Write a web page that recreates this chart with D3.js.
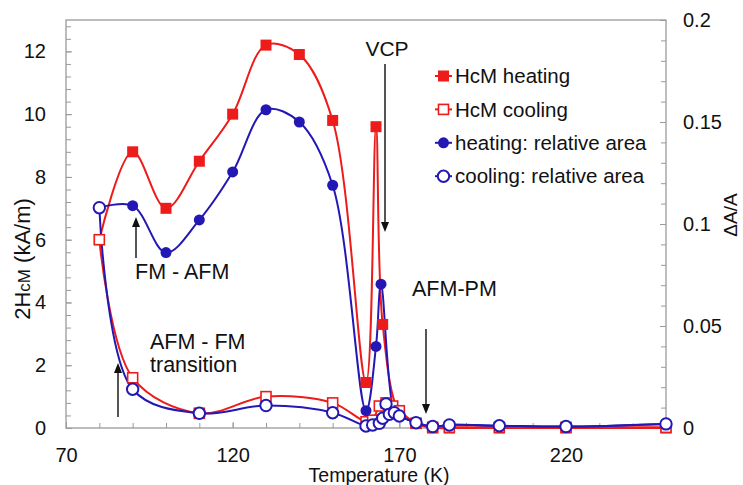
<!DOCTYPE html>
<html>
<head>
<meta charset="utf-8">
<script src="https://cdn.jsdelivr.net/npm/d3@7"></script>
<style>
body{margin:0;background:#fff;}
text{font-family:"Liberation Sans",Arial,sans-serif;fill:#111;}
</style>
</head>
<body>
<svg id="chart" width="743" height="485"></svg>
<script>
// data
const heatT    = [80, 90, 100, 110, 120, 130, 140, 150, 160, 163, 165, 170, 175, 180, 185, 200, 220, 250];
const heatHcM  = [6.0, 8.8, 7.0, 8.5, 10.0, 12.2, 11.9, 9.8, 1.45, 9.6, 3.3, 0.5, 0.15, 0, 0, 0, 0, 0];
const coolT    = [80, 90, 110, 130, 150, 160, 162, 164, 166, 168, 170, 175, 180, 185, 200, 220, 250];
const coolHcM  = [6.0, 1.6, 0.47, 1.0, 0.8, 0.2, 0.25, 0.7, 0.8, 0.7, 0.55, 0.15, 0.02, 0.02, 0.02, 0.02, 0.02];
const heatAT   = [80, 90, 100, 110, 120, 130, 140, 150, 160, 163, 164.5, 168.5, 170, 175, 180, 185, 200, 220, 250];
const heatArea = [0.108, 0.109, 0.086, 0.102, 0.1255, 0.156, 0.150, 0.119, 0.0085, 0.040, 0.0705, 0.0075, 0.0059, 0.0026, 0.0007, 0.0015, 0.0011, 0.0007, 0.002];
const coolAT   = [80, 90, 110, 130, 150, 160, 162, 164, 165, 166, 167, 168.5, 170, 175, 180, 185, 200, 220, 250];
const coolArea = [0.108, 0.019, 0.0072, 0.011, 0.0075, 0.001, 0.0015, 0.0023, 0.0048, 0.0118, 0.0067, 0.0075, 0.0059, 0.0026, 0.0007, 0.0015, 0.0011, 0.0007, 0.002];

const xTicks  = [70, 120, 170, 220];
const yLTicks = [0, 2, 4, 6, 8, 10, 12];
const yRTicks = [0, 0.05, 0.1, 0.15, 0.2];
const legendNames = ['HcM heating', 'HcM cooling', 'heating: relative area', 'cooling: relative area'];

const RED = '#ee1b1b', BLUE = '#2418b4', AX = '#9a9a9a';
const L = 66, R = 666, T = 20, B = 428;

let svg = d3.select('#chart');

let x  = d3.scaleLinear().domain([70, 250]).range([L, R]);
let yL = d3.scaleLinear().domain([0, 13]).range([B, T]);
let yR = d3.scaleLinear().domain([0, 0.2]).range([B, T]);

// frame
svg.append('rect')
    .attr('x', L).attr('y', T)
    .attr('width', R - L).attr('height', B - T)
    .attr('fill', 'none').attr('stroke', AX).attr('stroke-width', 1.3);

function styleAxis(g){
    g.select('.domain').remove();
    g.selectAll('line').attr('stroke', AX);
    g.selectAll('text').attr('font-size', 20).attr('fill', '#111')
        .attr('font-family', '"Liberation Sans",Arial,sans-serif');
}

// minor ticks
svg.append('g').attr('transform', `translate(0,${B})`)
    .call(d3.axisBottom(x).tickValues(d3.range(80, 250, 10)).tickSize(-5).tickFormat(''))
    .call(styleAxis);
svg.append('g').attr('transform', `translate(${L},0)`)
    .call(d3.axisLeft(yL).tickValues(d3.range(0, 13, 0.4)).tickSize(-5).tickFormat(''))
    .call(styleAxis);
svg.append('g').attr('transform', `translate(${R},0)`)
    .call(d3.axisRight(yR).tickValues(d3.range(0, 0.2, 0.01)).tickSize(-5).tickFormat(''))
    .call(styleAxis);

// major ticks + labels
svg.append('g').attr('transform', `translate(0,${B})`)
    .call(d3.axisBottom(x).tickValues(xTicks).tickSize(-6).tickPadding(20))
    .call(styleAxis);
svg.append('g').attr('transform', `translate(${L},0)`)
    .call(d3.axisLeft(yL).tickValues(yLTicks).tickSize(-6).tickPadding(20))
    .call(styleAxis);
svg.append('g').attr('transform', `translate(${R},0)`)
    .call(d3.axisRight(yR).tickValues(yRTicks).tickSize(-6).tickPadding(17).tickFormat(d => d === 0 ? '0' : String(d)))
    .call(styleAxis);

// axis titles
svg.append('text')
    .attr('x', 379).attr('y', 482)
    .attr('text-anchor', 'middle').attr('font-size', 19.5)
    .text('Temperature (K)');

let yTitle = svg.append('text')
    .attr('transform', 'translate(30,259) rotate(-90)')
    .attr('text-anchor', 'middle').attr('font-size', 22);
yTitle.append('tspan').text('2H');
yTitle.append('tspan').attr('font-size', 17).text('cM');
yTitle.append('tspan').text(' (kA/m)');

svg.append('text')
    .attr('transform', 'translate(737,215) rotate(-90)')
    .attr('text-anchor', 'middle').attr('font-size', 19)
    .text('ΔA/A');

// series
let curve = d3.curveCatmullRom.alpha(0.5);
let lineL = d3.line().x(d => x(d[0])).y(d => yL(d[1])).curve(curve);
let lineR = d3.line().x(d => x(d[0])).y(d => yR(d[1])).curve(curve);

let series = [
    {pts: d3.zip(heatT, heatHcM), y: yL, line: lineL, color: RED,  shape: 'square', filled: true},
    {pts: d3.zip(coolT, coolHcM), y: yL, line: lineL, color: RED,  shape: 'square', filled: false},
    {pts: d3.zip(heatAT, heatArea), y: yR, line: lineR, color: BLUE, shape: 'circle', filled: true},
    {pts: d3.zip(coolAT, coolArea), y: yR, line: lineR, color: BLUE, shape: 'circle', filled: false}
];

series.forEach(s => {
    svg.append('path')
        .attr('d', s.line(s.pts))
        .attr('fill', 'none')
        .attr('stroke', s.color)
        .attr('stroke-width', 2);
});

function drawMarker(g, s, cx, cy){
    if(s.shape === 'square'){
        let sz = s.filled ? 11 : 10;
        g.append('rect')
            .attr('x', cx - sz / 2).attr('y', cy - sz / 2)
            .attr('width', sz).attr('height', sz)
            .attr('fill', s.filled ? s.color : '#fff')
            .attr('stroke', s.color).attr('stroke-width', s.filled ? 0 : 1.6);
    }else{
        g.append('circle')
            .attr('cx', cx).attr('cy', cy)
            .attr('r', s.filled ? 5.5 : 5.7)
            .attr('fill', s.filled ? s.color : '#fff')
            .attr('stroke', s.color).attr('stroke-width', s.filled ? 0 : 2);
    }
}

series.forEach(s => {
    let g = svg.append('g');
    s.pts.forEach(p => drawMarker(g, s, x(p[0]), s.y(p[1])));
});

// legend
let lg = svg.append('g');
legendNames.forEach((name, i) => {
    let cy = 76 + i * 33.4;
    lg.append('line')
        .attr('x1', 435).attr('x2', 452).attr('y1', cy).attr('y2', cy)
        .attr('stroke', series[i].color).attr('stroke-width', 2);
    drawMarker(lg, series[i], 443.5, cy);
    lg.append('text')
        .attr('x', 455).attr('y', cy)
        .attr('dy', '0.35em').attr('font-size', 20.5)
        .text(name);
});

// annotations
function arrow(x0, y0, y1){
    let dir = y1 > y0 ? 1 : -1;
    svg.append('line')
        .attr('x1', x0).attr('x2', x0)
        .attr('y1', y0).attr('y2', y1 - dir * 9)
        .attr('stroke', '#555').attr('stroke-width', 2);
    svg.append('path')
        .attr('d', `M${x0 - 4},${y1 - dir * 10}L${x0 + 4},${y1 - dir * 10}L${x0},${y1}Z`)
        .attr('fill', '#111');
}

svg.append('text').attr('x', 387).attr('y', 56).attr('text-anchor', 'middle')
    .attr('font-size', 21).text('VCP');
arrow(385, 64, 232);

svg.append('text').attr('x', 135).attr('y', 279).attr('font-size', 21.5).text('FM - AFM');
arrow(136, 258, 217);

svg.append('text').attr('x', 150).attr('y', 349).attr('font-size', 21.5).text('AFM - FM');
svg.append('text').attr('x', 150).attr('y', 372).attr('font-size', 21.5).text('transition');
arrow(118, 417, 363);

svg.append('text').attr('x', 412).attr('y', 296).attr('font-size', 21.5).text('AFM-PM');
arrow(426, 329, 414);
</script>
</body>
</html>
